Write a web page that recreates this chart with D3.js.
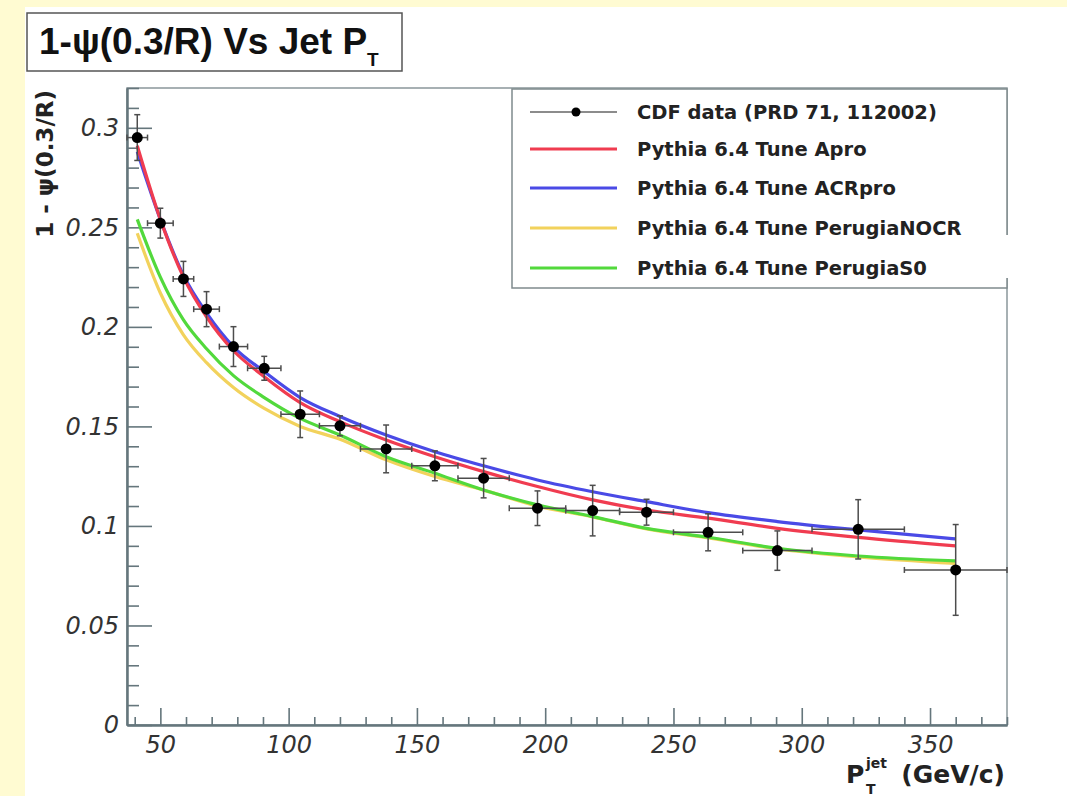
<!DOCTYPE html>
<html>
<head>
<meta charset="utf-8">
<script src="https://cdnjs.cloudflare.com/ajax/libs/d3/7.8.5/d3.min.js"></script>
<style>
	body { margin: 0; background: #ffffff; }
	svg { display: block; }
</style>
</head>
<body>
<div id="chart-area"></div>
<script>
// ** Data **
// jet pT bins (GeV/c)
var binEdges = [37, 45, 55, 63, 73, 84, 97, 112, 128, 148, 166, 186, 208, 229, 250, 277, 304, 340, 380];
var binCenters = [41, 50, 59, 68, 78.5, 90.5, 104.5, 120, 138, 157, 176, 197, 218.5, 239.5, 263.5, 290.5, 322, 360];

// CDF data points and errors
var cdfValues = [0.2951, 0.2521, 0.2241, 0.2089, 0.1901, 0.1792, 0.1561, 0.1503, 0.1387, 0.1302, 0.1240, 0.1089, 0.1077, 0.1069, 0.0968, 0.0876, 0.0983, 0.0779];
var cdfErrors = [0.0115, 0.0075, 0.0088, 0.0088, 0.0100, 0.0060, 0.0117, 0.0050, 0.0120, 0.0075, 0.0099, 0.0087, 0.0127, 0.0065, 0.0093, 0.0099, 0.0149, 0.0228];

// Pythia tunes
var tuneApro = [0.291, 0.254, 0.225, 0.205, 0.188, 0.175, 0.162, 0.1524, 0.1432, 0.1348, 0.1273, 0.1198, 0.1131, 0.1080, 0.1039, 0.0988, 0.0943, 0.0900];
var tuneACRpro = [0.288, 0.254, 0.226, 0.207, 0.190, 0.1775, 0.1645, 0.1550, 0.1457, 0.1373, 0.1302, 0.1231, 0.1172, 0.1122, 0.1067, 0.1022, 0.0980, 0.0935];
var tunePerugiaNOCR = [0.247, 0.217, 0.196, 0.182, 0.1695, 0.159, 0.150, 0.1436, 0.1332, 0.1248, 0.1180, 0.1100, 0.1045, 0.0985, 0.0940, 0.0885, 0.0845, 0.0812];
var tunePerugiaS0 = [0.254, 0.225, 0.2035, 0.189, 0.1755, 0.1645, 0.154, 0.1457, 0.1348, 0.1265, 0.1181, 0.1106, 0.1047, 0.0988, 0.0943, 0.0888, 0.0849, 0.0824];

var legendLabels = ["CDF data (PRD 71, 112002)", "Pythia 6.4 Tune Apro", "Pythia 6.4 Tune ACRpro",
	"Pythia 6.4 Tune PerugiaNOCR", "Pythia 6.4 Tune PerugiaS0"];

// Tick values
var yMajorTicks = [0, 0.05, 0.1, 0.15, 0.2, 0.25, 0.3];
var xMajorTicks = [50, 100, 150, 200, 250, 300, 350];

// ** Dimensions **
var svgWidth = 1067;
var svgHeight = 796;
var frame = { left: 127, right: 1007, top: 88, bottom: 725 };

var tickFont = "'DejaVu Sans', sans-serif";
var axisColor = "#65767c";

var svg = d3.select("#chart-area")
	.append("svg")
	.attr("width", svgWidth)
	.attr("height", svgHeight);

// Slide background strips
svg.append("rect")
	.attr("x", 0).attr("y", 0)
	.attr("width", svgWidth).attr("height", 7)
	.attr("fill", "#fffbd2");
svg.append("rect")
	.attr("x", 0).attr("y", 0)
	.attr("width", 25).attr("height", svgHeight)
	.attr("fill", "#fffbd2");

// Scales
var x = d3.scaleLinear()
	.domain([37, 380])
	.range([frame.left, frame.right]);
var y = d3.scaleLinear()
	.domain([0, 0.32])
	.range([frame.bottom, frame.top]);

// Frame
svg.append("rect")
	.attr("x", frame.left)
	.attr("y", frame.top)
	.attr("width", frame.right - frame.left)
	.attr("height", frame.bottom - frame.top)
	.attr("fill", "none")
	.attr("stroke", "#8a979b")
	.attr("stroke-width", 1.5);

// Y Axis (ticks inside the frame)
var yMinor = d3.range(0, 0.3201, 0.01).filter(function(d){
	return yMajorTicks.indexOf(+d.toFixed(2)) < 0;
});
svg.append("g")
	.attr("class", "y-axis-minor")
	.attr("transform", "translate(" + frame.left + ",0)")
	.call(d3.axisLeft(y).tickValues(yMinor).tickSizeInner(-12).tickSizeOuter(0).tickFormat(""));
var yAxisCall = d3.axisLeft(y)
	.tickValues(yMajorTicks)
	.tickSizeInner(-25)
	.tickSizeOuter(0)
	.tickPadding(8)
	.tickFormat(function(d){ return String(+d.toFixed(2)); });
svg.append("g")
	.attr("class", "y-axis")
	.attr("transform", "translate(" + frame.left + ",0)")
	.call(yAxisCall);

// X Axis (ticks inside the frame)
var xMinor = d3.range(40, 381, 10).filter(function(d){
	return xMajorTicks.indexOf(d) < 0;
});
svg.append("g")
	.attr("class", "x-axis-minor")
	.attr("transform", "translate(0," + frame.bottom + ")")
	.call(d3.axisBottom(x).tickValues(xMinor).tickSizeInner(-8).tickSizeOuter(0).tickFormat(""));
var xAxisCall = d3.axisBottom(x)
	.tickValues(xMajorTicks)
	.tickSizeInner(-17)
	.tickSizeOuter(0)
	.tickPadding(11);
svg.append("g")
	.attr("class", "x-axis")
	.attr("transform", "translate(0," + frame.bottom + ")")
	.call(xAxisCall);

svg.selectAll(".domain")
	.attr("stroke", axisColor)
	.attr("stroke-width", 2);
svg.selectAll(".tick line")
	.attr("stroke", axisColor)
	.attr("stroke-width", 1.6);
svg.selectAll(".tick text")
	.attr("font-family", tickFont)
	.attr("font-style", "italic")
	.attr("font-size", 24)
	.attr("fill", "#333");

// Labels
svg.append("text")
	.attr("transform", "translate(53," + 90 + ") rotate(-90)")
	.attr("text-anchor", "end")
	.attr("font-family", tickFont)
	.attr("font-weight", "bold")
	.attr("font-size", 23)
	.attr("fill", "#222")
	.text("1 - \u03c8(0.3/R)");

var xTitle = svg.append("g")
	.attr("font-family", tickFont)
	.attr("font-weight", "bold")
	.attr("fill", "#222");
xTitle.append("text")
	.attr("x", 1005).attr("y", 783)
	.attr("text-anchor", "end")
	.attr("font-size", 25)
	.text("(GeV/c)");
xTitle.append("text")
	.attr("x", 846).attr("y", 783)
	.attr("font-size", 25)
	.text("P");
xTitle.append("text")
	.attr("x", 866).attr("y", 794)
	.attr("font-size", 14)
	.text("T");
xTitle.append("text")
	.attr("x", 866).attr("y", 768)
	.attr("font-size", 14)
	.text("jet");

// ** Curves **
var tunes = [
	{ name: legendLabels[3], values: tunePerugiaNOCR, color: "#f2d25c" },
	{ name: legendLabels[4], values: tunePerugiaS0, color: "#52d93c" },
	{ name: legendLabels[2], values: tuneACRpro, color: "#4a4ae6" },
	{ name: legendLabels[1], values: tuneApro, color: "#f03c50" }
];

var line = d3.line()
	.x(function(d){ return x(d.pt); })
	.y(function(d){ return y(d.v); })
	.curve(d3.curveMonotoneX);

tunes.forEach(function(tune){
	var pts = tune.values.map(function(v, i){
		return { pt: binCenters[i], v: v };
	});
	svg.append("path")
		.datum(pts)
		.attr("d", line)
		.attr("fill", "none")
		.attr("stroke", tune.color)
		.attr("stroke-width", 3.2);
});

// ** CDF data with error bars **
var cdf = cdfValues.map(function(v, i){
	return { lo: binEdges[i], hi: binEdges[i + 1], pt: binCenters[i], v: v, e: cdfErrors[i] };
});

var errColor = "#4d4d4d";
var cap = 3;
var points = svg.append("g").attr("class", "cdf");

points.selectAll(".hbar").data(cdf).enter().append("line")
	.attr("x1", function(d){ return x(d.lo); })
	.attr("x2", function(d){ return x(d.hi); })
	.attr("y1", function(d){ return y(d.v); })
	.attr("y2", function(d){ return y(d.v); });
points.selectAll(".vbar").data(cdf).enter().append("line")
	.attr("x1", function(d){ return x(d.pt); })
	.attr("x2", function(d){ return x(d.pt); })
	.attr("y1", function(d){ return y(d.v - d.e); })
	.attr("y2", function(d){ return y(d.v + d.e); });
// end caps
[-1, 1].forEach(function(s){
	points.selectAll(".vcap" + s).data(cdf).enter().append("line")
		.attr("x1", function(d){ return x(d.pt) - cap; })
		.attr("x2", function(d){ return x(d.pt) + cap; })
		.attr("y1", function(d){ return y(d.v + s * d.e); })
		.attr("y2", function(d){ return y(d.v + s * d.e); });
});
["lo", "hi"].forEach(function(k){
	points.selectAll(".hcap" + k).data(cdf).enter().append("line")
		.attr("x1", function(d){ return x(d[k]); })
		.attr("x2", function(d){ return x(d[k]); })
		.attr("y1", function(d){ return y(d.v) - cap; })
		.attr("y2", function(d){ return y(d.v) + cap; });
});
points.selectAll("line")
	.attr("stroke", errColor)
	.attr("stroke-width", 1.5);

points.selectAll("circle").data(cdf).enter().append("circle")
	.attr("cx", function(d){ return x(d.pt); })
	.attr("cy", function(d){ return y(d.v); })
	.attr("r", 5.5)
	.attr("fill", "#000");

// ** Legend **
var legend = svg.append("g");
legend.append("rect")
	.attr("x", 512).attr("y", 89)
	.attr("width", frame.right - 512).attr("height", 199)
	.attr("fill", "#fff")
	.attr("stroke", "#7f8a8d")
	.attr("stroke-width", 1.5);

var legendColors = ["#666", "#f03c50", "#4a4ae6", "#f2d25c", "#52d93c"];
var legendRowY = [112, 149, 188, 228, 268];

legendLabels.forEach(function(label, i){
	var row = legend.append("g")
		.attr("transform", "translate(0," + legendRowY[i] + ")");
	row.append("line")
		.attr("x1", 530).attr("x2", 617)
		.attr("stroke", legendColors[i])
		.attr("stroke-width", i == 0 ? 1.5 : 3);
	if (i == 0){
		row.append("circle")
			.attr("cx", 576).attr("r", 4.5)
			.attr("fill", "#000");
	}
	row.append("text")
		.attr("x", 637)
		.attr("dy", "0.36em")
		.attr("font-family", tickFont)
		.attr("font-weight", "bold")
		.attr("font-size", 19.5)
		.attr("fill", "#222")
		.text(label);
});

// white patch over part of the legend, as in the slide
svg.append("rect")
	.attr("x", 945).attr("y", 235)
	.attr("width", svgWidth - 945).attr("height", 43)
	.attr("fill", "#fff");

// ** Title box **
svg.append("rect")
	.attr("x", 27).attr("y", 13)
	.attr("width", 375).attr("height", 58)
	.attr("fill", "#fff")
	.attr("stroke", "#555")
	.attr("stroke-width", 1.5);
var title = svg.append("text")
	.attr("x", 39).attr("y", 54)
	.attr("font-family", "'Liberation Sans', Arial, sans-serif")
	.attr("font-weight", "bold")
	.attr("font-size", 37)
	.attr("fill", "#111")
	.text("1-\u03c8(0.3/R) Vs Jet P");
title.append("tspan")
	.attr("dy", 12)
	.attr("font-size", 19)
	.text("T");
</script>
</body>
</html>
